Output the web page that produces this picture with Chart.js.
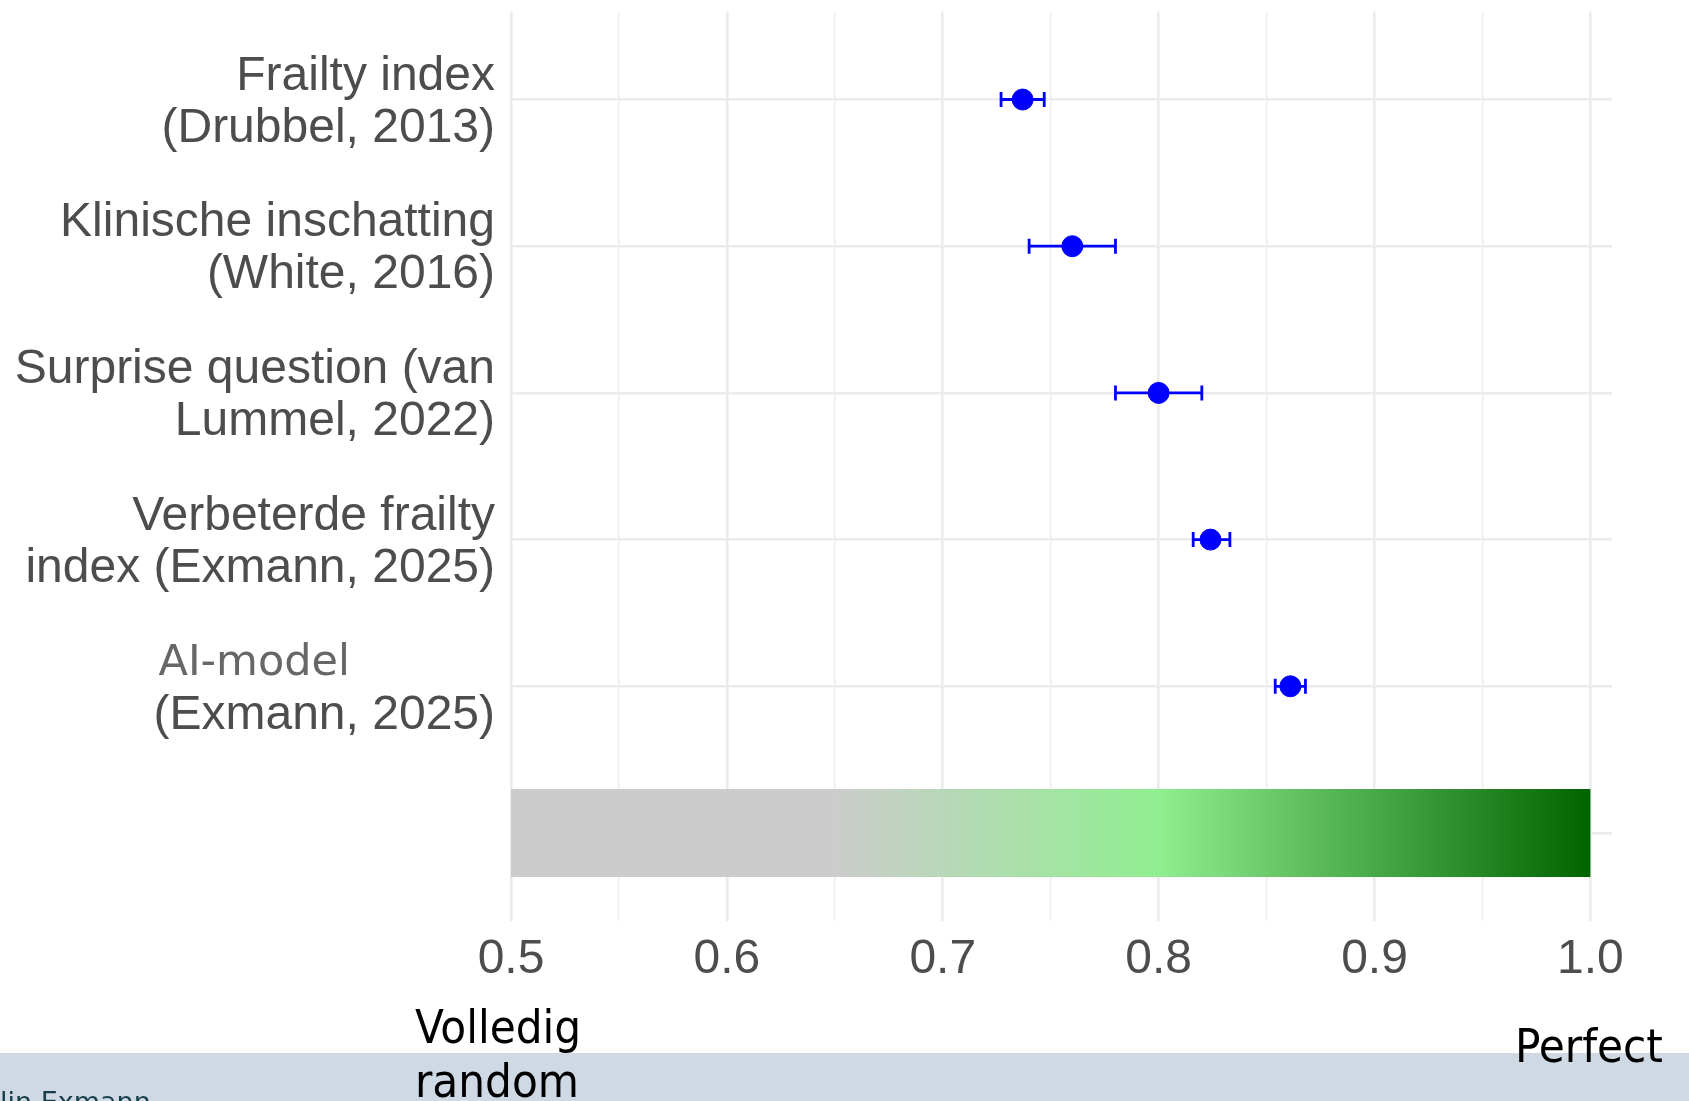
<!DOCTYPE html>
<html lang="nl">
<head>
<meta charset="utf-8">
<title>Voorspellende waarde (AUC)</title>
<script src="https://cdn.jsdelivr.net/npm/chart.js@4.4.1/dist/chart.umd.min.js"></script>
<style>
  html, body { margin: 0; padding: 0; background: #fff; }
  #wrap { position: relative; width: 1689px; height: 1101px; overflow: hidden; }
  #band { position: absolute; left: 0; top: 1053px; width: 1689px; height: 48px; background: #cfd9e4; }
  canvas { position: absolute; left: 0; top: 0; }
  .note {
    position: absolute;
    font-family: "DejaVu Sans Condensed", "DejaVu Sans", sans-serif;
    font-stretch: condensed;
    font-size: 47px;
    line-height: 54px;
    color: #000;
    white-space: nowrap;
  }
  #random { left: 415px; top: 1000px; }
  #perfect { left: 1515px; top: 1019px; }
  #author {
    position: absolute; left: 0; top: 1088px;
    font-family: "DejaVu Sans", sans-serif; font-size: 27px; line-height: 27px;
    color: #163f4a; white-space: nowrap;
  }
</style>
</head>
<body>
<div id="wrap">
  <div id="band"></div>
  <canvas id="aucChart" width="1689" height="1101"></canvas>
  <div class="note" id="random">Volledig<br>random</div>
  <div class="note" id="perfect">Perfect</div>
  <div id="author">lin Exmann</div>
</div>
<script>
// Modellen (van boven naar beneden), elk label over twee regels
const modelLabels = [
    ['Frailty index', '(Drubbel, 2013)'],
    ['Klinische inschatting', '(White, 2016)'],
    ['Surprise question (van', 'Lummel, 2022)'],
    ['Verbeterde frailty', 'index (Exmann, 2025)'],
    ['AI-model', '(Exmann, 2025)']
];

const auc    = [0.737, 0.760, 0.800, 0.824, 0.861];
const ciLow  = [0.727, 0.740, 0.780, 0.816, 0.854];
const ciHigh = [0.747, 0.780, 0.820, 0.833, 0.868];

// Referentiebalk: van volledig random tot perfect
const scaleRow = 5;
const scaleRange = [0.5, 1.0];
const scaleStops = [0.5, 0.65, 0.8, 1.0];
const scaleColors = ['#cccccc', '#cccccc', '#90ee90', '#006400'];

// X-as ticks
const xMajor = [0.5, 0.6, 0.7, 0.8, 0.9, 1.0];
const xMinor = [0.55, 0.65, 0.75, 0.85, 0.95];
const xTicks = [...xMajor, ...xMinor].sort((a, b) => a - b);

const aiIndex = 4;
const blue = '#0000ff';
const gridColor = '#ebebeb';
const textColor = '#4d4d4d';

Chart.defaults.font.family = '"Liberation Sans", Arial, sans-serif';

function scaleGradient(context) {
    const chart = context.chart;
    const { ctx, chartArea, scales } = chart;
    if (!chartArea) return scaleColors[0];
    const x0 = scales.x.getPixelForValue(scaleRange[0]);
    const x1 = scales.x.getPixelForValue(scaleRange[1]);
    const g = ctx.createLinearGradient(x0, 0, x1, 0);
    scaleStops.forEach((v, i) => {
        g.addColorStop((v - scaleRange[0]) / (scaleRange[1] - scaleRange[0]), scaleColors[i]);
    });
    return g;
}

// eerste regel van het AI-model label in een ander lettertype
const aiLabelPlugin = {
    id: 'aiLabel',
    afterDraw(chart) {
        const ys = chart.scales.y;
        const ctx = chart.ctx;
        const py = ys.getPixelForValue(aiIndex) + ys.options.ticks.labelOffset;
        const right = ys.right - ys.options.ticks.padding;
        ctx.save();
        ctx.font = '48px "Liberation Sans", Arial, sans-serif';
        const w = ctx.measureText(modelLabels[aiIndex][1]).width;
        ctx.font = '43px "DejaVu Sans", sans-serif';
        ctx.fillStyle = '#676767';
        ctx.textAlign = 'left';
        ctx.textBaseline = 'middle';
        ctx.fillText(modelLabels[aiIndex][0], right - w + 5, py - 25);
        ctx.restore();
    }
};

const datasets = [];

datasets.push({
    type: 'scatter',
    label: 'AUC',
    data: auc.map((v, i) => ({ x: v, y: i })),
    backgroundColor: blue,
    borderColor: blue,
    borderWidth: 1,
    pointRadius: 10.5,
    order: 0
});

ciLow.forEach((lo, i) => {
    datasets.push({
        type: 'line',
        label: 'CI ' + i,
        data: [{ x: lo, y: i }, { x: ciHigh[i], y: i }],
        borderColor: blue,
        borderWidth: 2.8,
        fill: false,
        pointStyle: 'line',
        pointRotation: 90,
        pointRadius: 7.5,
        pointBorderWidth: 2.8,
        pointBorderColor: blue,
        pointBackgroundColor: blue,
        order: 1
    });
});

datasets.push({
    type: 'bar',
    label: 'schaal',
    indexAxis: 'y',
    data: [{ x: scaleRange, y: scaleRow }],
    backgroundColor: scaleGradient,
    borderWidth: 0,
    barPercentage: 0.6,
    categoryPercentage: 1,
    order: 2
});

new Chart(document.getElementById('aucChart'), {
    type: 'scatter',
    data: { datasets },
    plugins: [aiLabelPlugin],
    options: {
        responsive: false,
        animation: false,
        events: [],
        layout: { padding: { top: 9, right: 77, bottom: 0, left: 0 } },
        plugins: {
            legend: { display: false },
            tooltip: { enabled: false }
        },
        scales: {
            x: {
                type: 'linear',
                min: 0.5,
                max: 1.01,
                offset: false,
                border: { display: false },
                grid: {
                    color: gridColor,
                    offset: false,
                    drawTicks: false,
                    lineWidth: (c) => (c.tick && xMajor.includes(c.tick.value)) ? 2.6 : 1.4
                },
                ticks: {
                    color: textColor,
                    font: { size: 48 },
                    padding: 10,
                    autoSkip: false,
                    maxRotation: 0,
                    minRotation: 0,
                    callback: (v) => xMajor.includes(v) ? v.toFixed(1) : ''
                },
                afterBuildTicks: (s) => { s.ticks = xTicks.map(v => ({ value: v })); },
                afterFit: (s) => { s.height = 180; s.paddingLeft = 0; s.paddingRight = 0; }
            },
            y: {
                type: 'linear',
                min: -0.6,
                max: 5.6,
                reverse: true,
                offset: false,
                border: { display: false },
                grid: { color: gridColor, lineWidth: 2.6, drawTicks: false, offset: false },
                ticks: {
                    color: textColor,
                    font: { size: 48, lineHeight: 52 / 48 },
                    padding: 16,
                    labelOffset: 3,
                    autoSkip: false,
                    callback: (v) => {
                        if (v === aiIndex) return ['', modelLabels[v][1]];
                        return modelLabels[v] || '';
                    }
                },
                afterBuildTicks: (s) => {
                    s.ticks = [...modelLabels.keys(), scaleRow].map(v => ({ value: v }));
                },
                afterFit: (s) => { s.width = 511; s.paddingTop = 0; s.paddingBottom = 0; }
            }
        }
    }
});
</script>
</body>
</html>
